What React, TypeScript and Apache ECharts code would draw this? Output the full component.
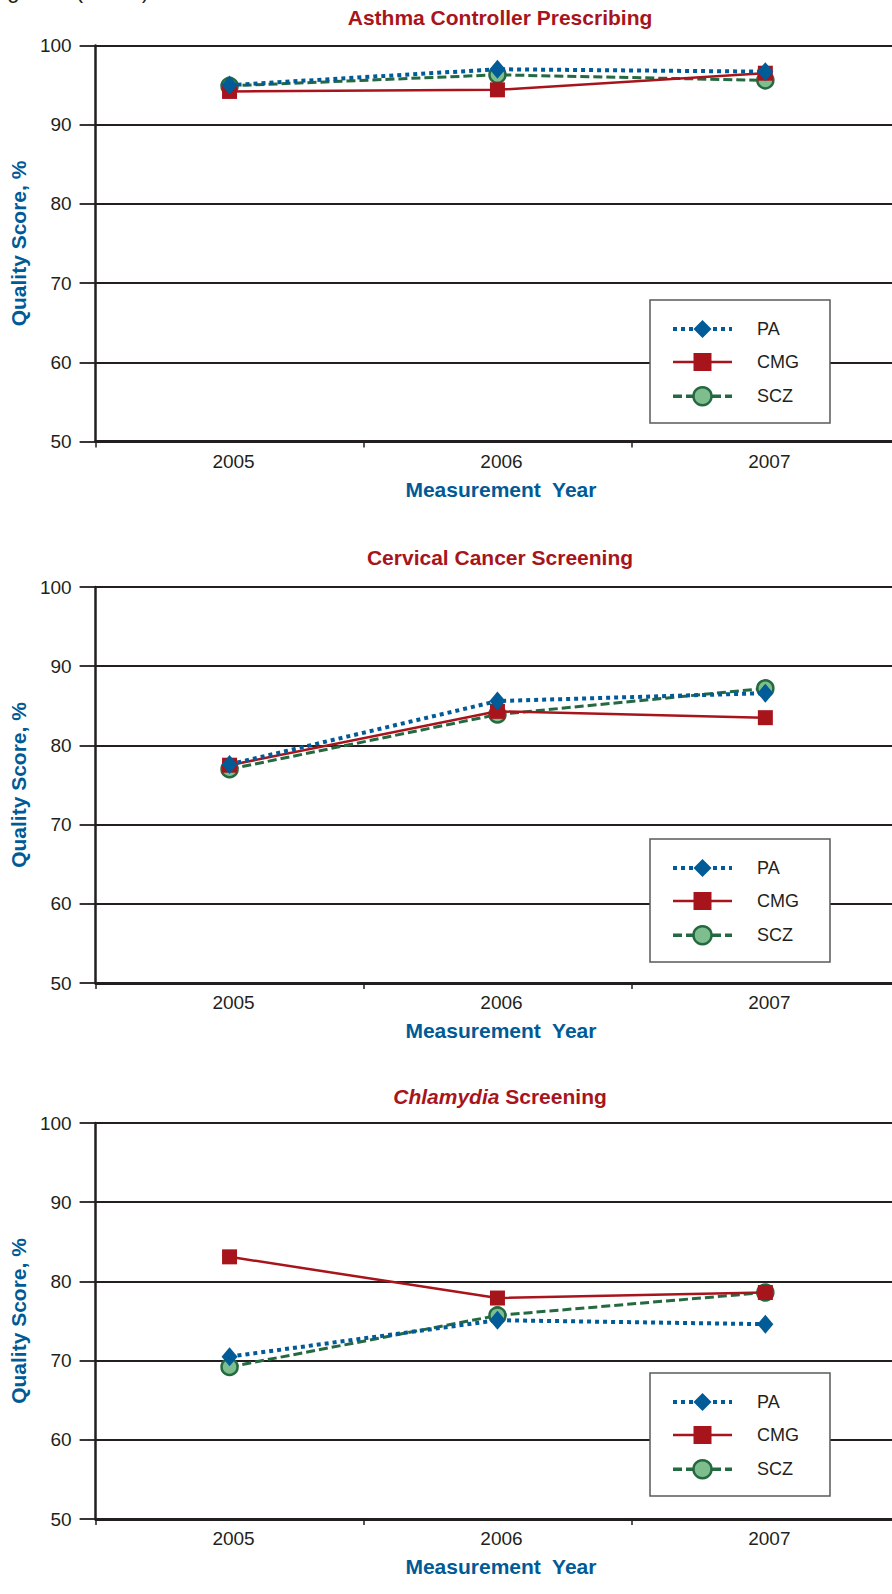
import React, { useEffect, useRef } from "react";
import * as echarts from "echarts";

const years = ["2005", "2006", "2007"];
const legendNames = ["PA", "CMG", "SCZ"];
const yMin = 50;
const yMax = 100;
const yStep = 10;

const panelTitles = [
  "Asthma Controller Prescribing",
  "Cervical Cancer Screening",
  "{i|Chlamydia} Screening",
];

const asthmaPA = [95.0, 97.0, 96.7];
const asthmaCMG = [94.2, 94.4, 96.5];
const asthmaSCZ = [94.9, 96.3, 95.6];

const cervicalPA = [77.6, 85.6, 86.6];
const cervicalCMG = [77.5, 84.3, 83.5];
const cervicalSCZ = [77.0, 83.9, 87.2];

const chlamydiaPA = [70.5, 75.1, 74.6];
const chlamydiaCMG = [83.1, 77.9, 78.6];
const chlamydiaSCZ = [69.2, 75.7, 78.6];

const paData = [asthmaPA, cervicalPA, chlamydiaPA];
const cmgData = [asthmaCMG, cervicalCMG, chlamydiaCMG];
const sczData = [asthmaSCZ, cervicalSCZ, chlamydiaSCZ];

const FONT = "'Liberation Sans', Arial, Helvetica, sans-serif";
const INK = "#231f20";
const RED = "#a8141c";
const BLUE = "#005a96";
const PA_COLOR = "#005b97";
const SCZ_LINE = "#24693f";
const SCZ_FILL = "#7dbd8e";

const CANVAS_W = 912;
const gridTops = [45.5, 587, 1123];
const gridHeight = 396;
const gridLeft = 93.3;
const gridWidth = 806;
const titleYs = [17.3, 557.4, 1096.4];
const legendTops = [300, 839, 1373];

const paLine = { color: PA_COLOR, width: 4, type: [4, 4] };
const cmgLine = { color: RED, width: 2.5, type: "solid" };
const sczLine = { color: SCZ_LINE, width: 3, type: [9, 4] };
const sczItem = { color: SCZ_FILL, borderColor: SCZ_LINE, borderWidth: 2.5 };

function buildOption() {
  const grid: any[] = [];
  const xAxis: any[] = [];
  const yAxis: any[] = [];
  const series: any[] = [];
  const legend: any[] = [];
  const graphic: any[] = [];

  graphic.push({
    type: "text",
    x: -11,
    y: 1,
    silent: true,
    style: {
      text: "Figure 2 (cont\u2019d)",
      font: `22px ${FONT}`,
      fill: INK,
      verticalAlign: "bottom",
      textAlign: "left",
    },
  });

  for (let i = 0; i < 3; i++) {
    grid.push({
      left: gridLeft,
      top: gridTops[i],
      width: gridWidth,
      height: gridHeight,
      containLabel: false,
    });
    xAxis.push({
      type: "category",
      gridIndex: i,
      data: years,
      boundaryGap: true,
      axisLine: { show: true, lineStyle: { color: INK, width: 2.8 } },
      axisTick: { show: true, length: 6, interval: 0, lineStyle: { color: INK, width: 1.5 } },
      axisLabel: {
        fontSize: 19,
        fontFamily: FONT,
        color: INK,
        margin: 10,
        padding: [0, 0, 0, 8],
      },
      splitLine: { show: false },
      name: "Measurement  Year",
      nameLocation: "middle",
      nameGap: 37,
      nameTextStyle: {
        fontSize: 21,
        fontWeight: "bold",
        color: BLUE,
        fontFamily: FONT,
        padding: [0, 0, 0, 7],
      },
    });
    yAxis.push({
      type: "value",
      gridIndex: i,
      min: yMin,
      max: yMax,
      interval: yStep,
      axisLine: { show: true, lineStyle: { color: INK, width: 2.5 } },
      axisTick: { show: true, length: 16, lineStyle: { color: INK, width: 1.8 } },
      axisLabel: { fontSize: 19, fontFamily: FONT, color: INK, margin: 24 },
      splitLine: { show: true, lineStyle: { color: INK, width: 1.8 } },
      name: "Quality Score, %",
      nameLocation: "middle",
      nameRotate: 90,
      nameGap: 62,
      nameTextStyle: { fontSize: 21, fontWeight: "bold", color: BLUE, fontFamily: FONT },
    });

    series.push({
      name: "SCZ",
      type: "line",
      xAxisIndex: i,
      yAxisIndex: i,
      data: sczData[i],
      symbol: "circle",
      symbolSize: 16,
      itemStyle: sczItem,
      lineStyle: sczLine,
      z: 2,
    });
    series.push({
      name: "CMG",
      type: "line",
      xAxisIndex: i,
      yAxisIndex: i,
      data: cmgData[i],
      symbol: "rect",
      symbolSize: 15,
      itemStyle: { color: RED },
      lineStyle: cmgLine,
      z: 3,
    });
    series.push({
      name: "PA",
      type: "line",
      xAxisIndex: i,
      yAxisIndex: i,
      data: paData[i],
      symbol: "diamond",
      symbolSize: [16, 19],
      itemStyle: { color: PA_COLOR },
      lineStyle: paLine,
      z: 4,
    });

    legend.push({
      data: [
        { name: legendNames[0], lineStyle: { width: 4 } },
        { name: legendNames[1], lineStyle: { width: 2.5 } },
        { name: legendNames[2], lineStyle: { width: 3.5 }, itemStyle: { borderWidth: 2.5 } },
      ],
      orient: "vertical",
      left: 650,
      top: legendTops[i],
      itemWidth: 59,
      itemHeight: 22.5,
      itemGap: 15,
      padding: [20, 31, 16.4, 21],
      backgroundColor: "#fff",
      borderColor: "#58595b",
      borderWidth: 1.5,
      selectedMode: false,
      textStyle: { fontSize: 18, color: INK, fontFamily: FONT, padding: [0, 0, 0, 20] },
      z: 10,
    });

    graphic.push({
      type: "text",
      x: 500,
      y: titleYs[i],
      silent: true,
      style: {
        text: panelTitles[i],
        font: `bold 21px ${FONT}`,
        fill: RED,
        textAlign: "center",
        verticalAlign: "middle",
        rich: {
          i: { fontStyle: "italic", fontWeight: "bold", fontSize: 21, fontFamily: FONT, fill: RED },
        },
      },
    });
  }

  return {
    animation: false,
    backgroundColor: "#ffffff",
    textStyle: { fontFamily: FONT },
    grid,
    xAxis,
    yAxis,
    series,
    legend,
    graphic,
  };
}

export default function App() {
  const ref = useRef<HTMLDivElement>(null);
  useEffect(() => {
    if (!ref.current) return;
    const chart = echarts.init(ref.current, null, { renderer: "svg" });
    chart.setOption(buildOption() as any);
    return () => chart.dispose();
  }, []);
  return (
    <div
      style={{
        position: "absolute",
        left: 0,
        top: 0,
        width: 892,
        height: 1594,
        overflow: "hidden",
        background: "#fff",
      }}
    >
      <div ref={ref} style={{ width: CANVAS_W, height: 1594 }} />
    </div>
  );
}
